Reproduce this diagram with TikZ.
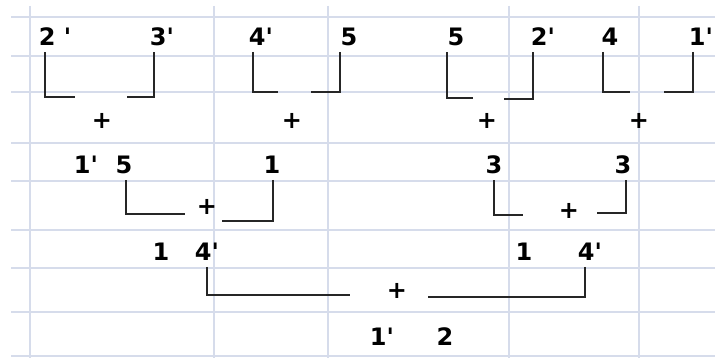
\documentclass[tikz,border=0pt]{standalone}
\usepackage{fontspec}
\setmainfont{DejaVu Sans}
\usepackage{xcolor}
\usepackage{tikz}

\definecolor{cellgrid}{RGB}{214,220,235}
\newcommand{\apos}{\textquotesingle}

\begin{document}
\begin{tikzpicture}[x=1pt, y=-1pt,
    num/.style={inner sep=1pt, font=\fontsize{24}{28}\selectfont\bfseries},
    link/.style={line width=1.4pt, black!85, shorten <=5pt}]
  \useasboundingbox (0,0) rectangle (715,358);

  % cell grid
  \foreach \x in {30,214,328,509,639} {
    \draw[cellgrid, line width=1.8pt] (\x,6) -- (\x,358);
  }
  \foreach \y in {17,56,92,143,181,230,268,312,356} {
    \draw[cellgrid, line width=1.8pt] (11,\y) -- (715,\y);
  }

  % first row
  \node[num] (a1) at (55,37) {2 \apos};
  \node[num] (a2) at (162,37) {3\apos};
  \node[num] (a3) at (261,37) {4\apos};
  \node[num] (a4) at (349,37) {5};
  \node[num] (a5) at (456,37) {5};
  \node[num] (a6) at (543,37) {2\apos};
  \node[num] (a7) at (610,37) {4};
  \node[num] (a8) at (701,37) {1\apos};

  \node[num] (p1) at (102,121) {+};
  \node[num] (p2) at (292,121) {+};
  \node[num] (p3) at (487,121) {+};
  \node[num] (p4) at (639,121) {+};

  \coordinate (e1) at (75,97);
  \coordinate (e2) at (127,97);
  \coordinate (e3) at (278,92);
  \coordinate (e4) at (311,92);
  \coordinate (e5) at (473,98);
  \coordinate (e6) at (504,99);
  \coordinate (e7) at (630,92);
  \coordinate (e8) at (664,92);

  \draw[link] ([xshift=-10pt]a1.south) |- (e1);
  \draw[link] ([xshift=-8pt]a2.south) |- (e2);
  \draw[link] ([xshift=-8pt]a3.south) |- (e3);
  \draw[link] ([xshift=-9pt]a4.south) |- (e4);
  \draw[link] ([xshift=-9pt]a5.south) |- (e5);
  \draw[link] ([xshift=-10pt]a6.south) |- (e6);
  \draw[link] ([xshift=-7pt]a7.south) |- (e7);
  \draw[link] ([xshift=-8pt]a8.south) |- (e8);

  % second row
  \node[num] (b1) at (86,165) {1\apos};
  \node[num] (b2) at (124,165) {5};
  \node[num] (b3) at (272,165) {1};
  \node[num] (b4) at (494,165) {3};
  \node[num] (b5) at (623,165) {3};

  \node[num] (q1) at (207,207) {+};
  \node[num] (q2) at (569,211) {+};

  \coordinate (f1) at (185,214);
  \coordinate (f2) at (222,221);
  \coordinate (f3) at (523,215);
  \coordinate (f4) at (597,213);

  \draw[link] ([xshift=2pt]b2.south) |- (f1);
  \draw[link] ([xshift=1pt]b3.south) |- (f2);
  \draw[link] (b4.south) |- (f3);
  \draw[link] ([xshift=3pt]b5.south) |- (f4);

  % third row
  \node[num] (c1) at (161,252) {1};
  \node[num] (c2) at (207,252) {4\apos};
  \node[num] (c3) at (524,252) {1};
  \node[num] (c4) at (590,252) {4\apos};

  \node[num] (r1) at (397,291) {+};

  \coordinate (g1) at (350,295);
  \coordinate (g2) at (428,297);

  \draw[link] (c2.south) |- (g1);
  \draw[link] ([xshift=-5pt]c4.south) |- (g2);

  % result
  \node[num] (d1) at (382,337) {1\apos};
  \node[num] (d2) at (445,337) {2};
\end{tikzpicture}
\end{document}
